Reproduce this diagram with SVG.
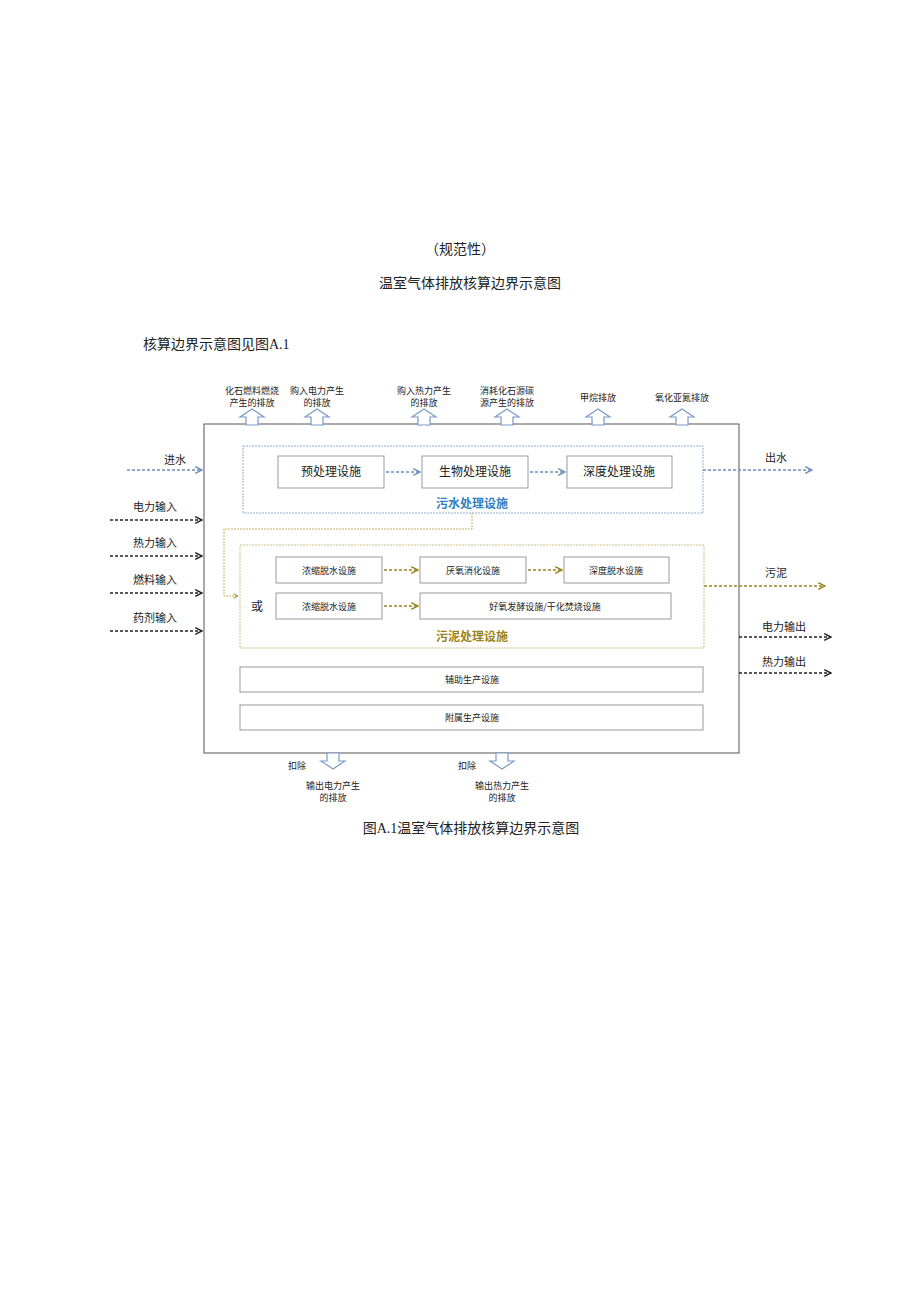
<svg xmlns="http://www.w3.org/2000/svg" width="920" height="1301" viewBox="0 0 920 1301">
<style>
text{font-family:"Noto Sans CJK SC","Noto Sans",sans-serif;fill:#222;text-anchor:middle}
.t{font-family:"Liberation Serif","Noto Sans CJK SC",serif;font-size:14px}
.s{font-size:9px}
.m{font-size:11px}
.l{font-size:12px}
.box{fill:#fff;stroke:#999;stroke-width:1}
.blue{fill:none;stroke:#8fb0d0;stroke-dasharray:2 1}
.olive{fill:none;stroke:#c9c28a;stroke-dasharray:2 1}
.hol{fill:#fff;stroke:#7a9cc8;stroke-width:1.2}
.da{stroke-dasharray:3 2;stroke-width:1.5;fill:none}
</style>
<defs>
<marker id="ab" viewBox="0 0 8 8" refX="7" refY="4" markerWidth="6" markerHeight="6" orient="auto"><path d="M1 1L7 4L1 7" fill="none" stroke="#6d8fc4" stroke-width="1.3"/></marker>
<marker id="ak" viewBox="0 0 8 8" refX="7" refY="4" markerWidth="6" markerHeight="6" orient="auto"><path d="M1 1L7 4L1 7" fill="none" stroke="#222" stroke-width="1.3"/></marker>
<marker id="ao" viewBox="0 0 8 8" refX="7" refY="4" markerWidth="6" markerHeight="6" orient="auto"><path d="M1 1L7 4L1 7" fill="none" stroke="#9a8420" stroke-width="1.3"/></marker>
<path id="up" d="M-6 14V6H-12L0-2L12 6H6V14Z"/>
</defs>
<text class="t" x="460" y="254">（规范性）</text>
<text class="t" x="470" y="288">温室气体排放核算边界示意图</text>
<text class="t" x="143" y="349" style="text-anchor:start">核算边界示意图见图A.1</text>
<text class="t" x="471" y="833">图A.1温室气体排放核算边界示意图</text>

<g id="main"><rect x="204" y="424" width="535" height="329" fill="#fff" stroke="#555" stroke-width="1"/></g>

<g id="emissions">
<text class="s" x="252" y="394">化石燃料燃烧</text><text class="s" x="252" y="406">产生的排放</text>
<text class="s" x="317" y="394">购入电力产生</text><text class="s" x="317" y="406">的排放</text>
<text class="s" x="424" y="394">购入热力产生</text><text class="s" x="424" y="406">的排放</text>
<text class="s" x="507" y="394">消耗化石源碳</text><text class="s" x="507" y="406">源产生的排放</text>
<text class="s" x="598" y="401">甲烷排放</text>
<text class="s" x="682" y="401">氧化亚氮排放</text>
<use href="#up" class="hol" x="252" y="411"/><use href="#up" class="hol" x="317" y="411"/><use href="#up" class="hol" x="424" y="411"/><use href="#up" class="hol" x="507" y="411"/><use href="#up" class="hol" x="598" y="411"/><use href="#up" class="hol" x="682" y="411"/>
</g>

<g id="sewage">
<rect x="243" y="446" width="460" height="67" class="blue"/>
<text x="472" y="508" style="font-size:12px;font-weight:bold;fill:#2f7fc1">污水处理设施</text>
</g>
<g id="n1"><rect x="278" y="456" width="106" height="32" class="box" stroke="#9fb4cc"/><text class="l" x="331" y="476">预处理设施</text></g>
<g id="n2"><rect x="422" y="456" width="106" height="32" class="box"/><text class="l" x="475" y="476">生物处理设施</text></g>
<g id="n3"><rect x="567" y="456" width="105" height="32" class="box"/><text class="l" x="619" y="476">深度处理设施</text></g>

<g id="sludge">
<rect x="240" y="545" width="464" height="103" class="olive"/>
<text x="472" y="641" style="font-size:12px;font-weight:bold;fill:#9a8420">污泥处理设施</text>
<text class="l" x="257" y="611">或</text>
</g>
<g id="s1"><rect x="276" y="557" width="106" height="26" class="box"/><text class="s" x="329" y="574">浓缩脱水设施</text></g>
<g id="s2"><rect x="420" y="557" width="106" height="26" class="box"/><text class="s" x="473" y="574">厌氧消化设施</text></g>
<g id="s3"><rect x="564" y="557" width="105" height="26" class="box"/><text class="s" x="616" y="574">深度脱水设施</text></g>
<g id="s4"><rect x="276" y="593" width="106" height="26" class="box"/><text class="s" x="329" y="610">浓缩脱水设施</text></g>
<g id="s5"><rect x="420" y="593" width="251" height="26" class="box"/><text class="s" x="545" y="610">好氧发酵设施/干化焚烧设施</text></g>
<g id="aux"><rect x="240" y="667" width="463" height="25" class="box"/><text class="s" x="472" y="683">辅助生产设施</text></g>
<g id="att"><rect x="240" y="705" width="463" height="25" class="box"/><text class="s" x="472" y="721">附属生产设施</text></g>

<g id="labels">
<text class="m" x="175" y="464">进水</text>
<text class="m" x="155" y="511">电力输入</text>
<text class="m" x="155" y="547">热力输入</text>
<text class="m" x="155" y="584">燃料输入</text>
<text class="m" x="155" y="622">药剂输入</text>
<text class="m" x="776" y="462">出水</text>
<text class="m" x="776" y="577">污泥</text>
<text class="m" x="784" y="631">电力输出</text>
<text class="m" x="784" y="666">热力输出</text>
<text class="s" x="297" y="769">扣除</text><text class="s" x="467" y="769">扣除</text>
<text class="s" x="333" y="789">输出电力产生</text><text class="s" x="333" y="801">的排放</text>
<text class="s" x="502" y="789">输出热力产生</text><text class="s" x="502" y="801">的排放</text>
<use href="#up" class="hol" transform="translate(333,767) rotate(180)"/>
<use href="#up" class="hol" transform="translate(502,767) rotate(180)"/>
</g>

<g id="connectors">
<path d="M127 470H202" class="da" stroke="#6d8fc4" marker-end="url(#ab)"/>
<path d="M386 472H420" class="da" stroke="#6d8fc4" marker-end="url(#ab)"/>
<path d="M530 472H565" class="da" stroke="#6d8fc4" marker-end="url(#ab)"/>
<path d="M703 470H812" class="da" stroke="#6d8fc4" marker-end="url(#ab)"/>
<path d="M110 520H202" class="da" stroke="#222" marker-end="url(#ak)"/>
<path d="M110 556H202" class="da" stroke="#222" marker-end="url(#ak)"/>
<path d="M110 593H202" class="da" stroke="#222" marker-end="url(#ak)"/>
<path d="M110 631H202" class="da" stroke="#222" marker-end="url(#ak)"/>
<path d="M739 637H831" class="da" stroke="#222" marker-end="url(#ak)"/>
<path d="M739 673H831" class="da" stroke="#222" marker-end="url(#ak)"/>
<path d="M472 513V529H224V596H238" fill="none" stroke="#c9b060" stroke-width="1" stroke-dasharray="2 1" marker-end="url(#ao)"/>
<path d="M384 570H418" class="da" stroke="#9a8420" marker-end="url(#ao)"/>
<path d="M528 570H562" class="da" stroke="#9a8420" marker-end="url(#ao)"/>
<path d="M384 606H418" class="da" stroke="#9a8420" marker-end="url(#ao)"/>
<path d="M704 586H825" class="da" stroke="#9a8420" marker-end="url(#ao)"/>
</g>
</svg>
